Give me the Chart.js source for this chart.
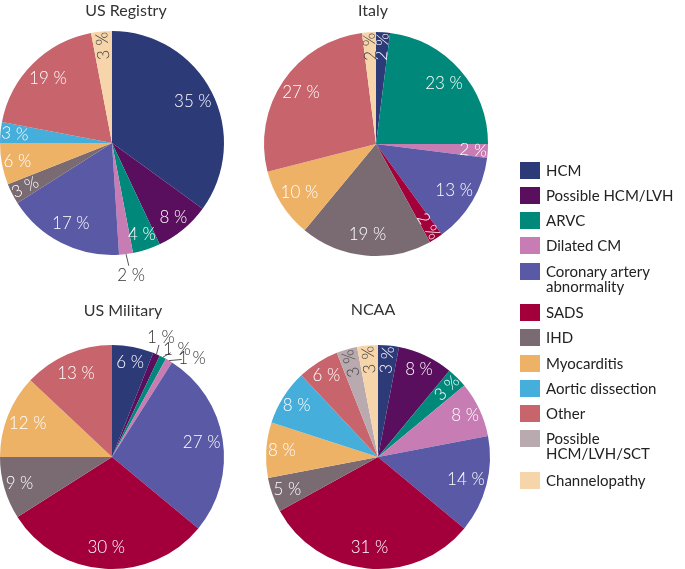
<!DOCTYPE html>
<html>
<head>
<meta charset="utf-8">
<script src="https://cdn.jsdelivr.net/npm/chart.js@4.4.0/dist/chart.umd.min.js"></script>
<style>
  body { margin: 0; background: #fff; font-family: Lato, "Open Sans", sans-serif; }
  #wrap { position: relative; width: 685px; height: 569px; overflow: hidden; }
  canvas.pie { position: absolute; }
  .title { position: absolute; font-size: 16px; line-height: 20px; color: #333; white-space: nowrap; transform: translateX(-50%); }
  .item { position: absolute; left: 520px; }
  .item .box { position: absolute; left: 0; top: 0; width: 20px; height: 17px; }
  .item .txt { position: absolute; left: 26px; top: 1px; font-size: 15px; line-height: 15px; color: #222; white-space: pre; }
</style>
</head>
<body>
<div id="wrap">
  <canvas class="pie" id="registry" width="270" height="300"></canvas>
  <canvas class="pie" id="italy" width="270" height="300"></canvas>
  <canvas class="pie" id="military" width="270" height="300"></canvas>
  <canvas class="pie" id="ncaa" width="270" height="300"></canvas>
  <div id="legend"></div>
</div>
<script>
// categories (legend order)
const categories = ['HCM', 'Possible HCM/LVH', 'ARVC', 'Dilated CM', 'Coronary artery\nabnormality',
  'SADS', 'IHD', 'Myocarditis', 'Aortic dissection', 'Other', 'Possible\nHCM/LVH/SCT', 'Channelopathy'];
const colors = ['#2d3a78', '#5a0f5e', '#00897b', '#c77cb4', '#5a59a5', '#a3003b',
  '#7a6a71', '#eeb267', '#46aedb', '#c8646c', '#b8aaae', '#f7d5aa'];

// percentages per cohort
const usRegistry = [35, 8, 4, 2, 17, 0, 3, 6, 3, 19, 0, 3];
const italy      = [2, 0, 23, 2, 13, 2, 19, 10, 0, 27, 0, 2];
const usMilitary = [6, 1, 1, 1, 27, 30, 9, 12, 0, 13, 0, 0];
const ncaa       = [3, 8, 3, 8, 14, 31, 5, 8, 8, 6, 3, 3];

const darkText = [10, 11]; // light slices get dark labels

// draws "xx %" labels on the slices
const sliceLabels = {
  id: 'sliceLabels',
  afterDatasetsDraw(chart, args, opts) {
    const ctx = chart.ctx;
    const meta = chart.getDatasetMeta(0);
    const data = chart.data.datasets[0].data;
    const callouts = opts.callouts || {};
    ctx.save();
    ctx.font = '300 17px Lato, sans-serif';
    ctx.textAlign = 'center';
    ctx.textBaseline = 'middle';
    meta.data.forEach((arc, i) => {
      const v = data[i];
      if (!v) return;
      const p = arc.getProps(['x', 'y', 'startAngle', 'endAngle', 'outerRadius'], true);
      const mid = (p.startAngle + p.endAngle) / 2;
      const text = v + ' %';
      if (callouts[i]) {
        const ex = p.x + Math.cos(mid) * p.outerRadius;
        const ey = p.y + Math.sin(mid) * p.outerRadius;
        const lx = ex + callouts[i][0], ly = ey + callouts[i][1];
        ctx.strokeStyle = '#555';
        ctx.lineWidth = 1;
        ctx.beginPath();
        ctx.moveTo(ex, ey);
        ctx.lineTo(ex + (lx - ex) * 0.55, ey + (ly - ey) * 0.55);
        ctx.stroke();
        ctx.fillStyle = '#333';
        ctx.fillText(text, lx, ly);
        return;
      }
      const dist = p.outerRadius * (v <= 3 ? 0.87 : v < 10 ? 0.86 : 0.81);
      const tx = p.x + Math.cos(mid) * dist;
      const ty = p.y + Math.sin(mid) * dist;
      ctx.fillStyle = darkText.includes(i) ? '#444' : '#fff';
      if (v <= 3) {
        let a = Math.atan2(Math.sin(mid), Math.cos(mid));
        if (Math.abs(a) > Math.PI * 2 / 3) a += Math.PI;
        ctx.save();
        ctx.translate(tx, ty);
        ctx.rotate(a);
        ctx.fillText(text, 0, 0);
        ctx.restore();
      } else {
        ctx.fillText(text, tx, ty);
      }
    });
    ctx.restore();
  }
};

function makePie(id, values, cx, cy, callouts) {
  const el = document.getElementById(id);
  el.style.left = (cx - 135) + 'px';
  el.style.top = (cy - 142) + 'px';
  return new Chart(el, {
    type: 'pie',
    data: {
      labels: categories,
      datasets: [{ data: values, backgroundColor: colors, borderWidth: 0 }]
    },
    options: {
      responsive: false,
      animation: false,
      layout: { padding: { left: 23, right: 23, top: 30, bottom: 46 } },
      plugins: {
        legend: { display: false },
        tooltip: { enabled: false },
        sliceLabels: { callouts: callouts || {} }
      }
    },
    plugins: [sliceLabels]
  });
}

makePie('registry', usRegistry, 112, 143, { 3: [5, 21] });
makePie('italy', italy, 376, 144);
makePie('military', usMilitary, 112, 457, { 1: [4.5, -17], 2: [14, -8], 3: [23, -2] });
makePie('ncaa', ncaa, 378, 457);

// titles
const wrap = document.getElementById('wrap');
[['US Registry', 126, 10], ['Italy', 373, 10], ['US Military', 123, 310], ['NCAA', 373, 309]].forEach(t => {
  const d = document.createElement('div');
  d.className = 'title';
  d.textContent = t[0];
  d.style.left = t[1] + 'px';
  d.style.top = (t[2] - 10) + 'px';
  wrap.appendChild(d);
});

// legend
const legend = document.getElementById('legend');
let y = 161.7;
categories.forEach((c, i) => {
  const item = document.createElement('div');
  item.className = 'item';
  item.style.top = y + 'px';
  item.innerHTML = '<div class="box" style="background:' + colors[i] + '"></div><div class="txt"></div>';
  item.querySelector('.txt').textContent = c;
  legend.appendChild(item);
  y += 25.2 + (c.includes('\n') ? 16.5 : 0);
});
</script>
</body>
</html>
